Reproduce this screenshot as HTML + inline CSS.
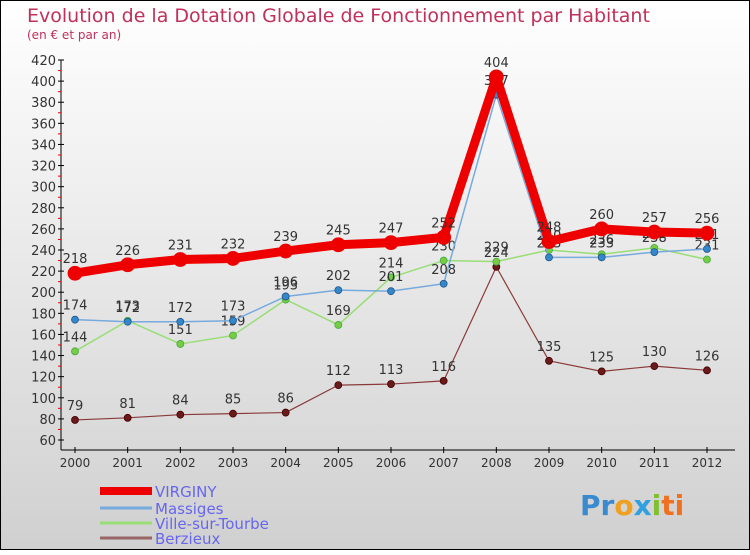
<!DOCTYPE html>
<html><head><meta charset="utf-8"><style>
body{margin:0}
svg text{font-family:"DejaVu Sans","Liberation Sans",sans-serif}
</style></head><body>
<svg width="750" height="550" viewBox="0 0 750 550">
<defs><linearGradient id="bg" x1="0" y1="0" x2="0" y2="1"><stop offset="0" stop-color="#ffffff"/><stop offset="1" stop-color="#d0d0d0"/></linearGradient></defs>
<rect x="0.5" y="0.5" width="749" height="549" fill="url(#bg)" stroke="#000"/>
<text x="27" y="22" font-size="19" fill="#c0305a">Evolution de la Dotation Globale de Fonctionnement par Habitant</text>
<text x="27" y="39" font-size="12" fill="#c0305a">(en € et par an)</text>
<g id="axes"></g>
<g id="series"></g>
<g id="legend"></g>
<text x="580" y="515" font-size="28" font-weight="bold"><tspan fill="#3a8ad0">Pr</tspan><tspan fill="#f0a020">o</tspan><tspan fill="#30a0e0">x</tspan><tspan fill="#80c030">i</tspan><tspan fill="#f07020">ti</tspan></text>
</svg>
<script>
const years=["2000","2001","2002","2003","2004","2005","2006","2007","2008","2009","2010","2011","2012"];
const yTicks=[60,80,100,120,140,160,180,200,220,240,260,280,300,320,340,360,380,400,420];
const virginy=[218,226,231,232,239,245,247,252,404,248,260,257,256];
const massiges=[174,172,172,173,196,202,201,208,387,233,233,238,241];
const ville=[144,173,151,159,193,169,214,230,229,240,236,242,231];
const berzieux=[79,81,84,85,86,112,113,116,224,135,125,130,126];
const NS="http://www.w3.org/2000/svg";
const xs=i=>75+i*(707-75)/12;
const ys=v=>440-(v-60)*(380/360);
function mk(t,a,p){const e=document.createElementNS(NS,t);for(const k in a)e.setAttribute(k,a[k]);p.appendChild(e);return e;}
const ax=document.getElementById('axes');
const yl=mk('line',{x1:61,y1:ys(420),x2:61,y2:450,stroke:'#000'},ax);

const xl=mk('line',{x1:61,y1:450,x2:735,y2:450,stroke:'#000'},ax);

yTicks.forEach(v=>{
 mk('line',{x1:58,y1:ys(v),x2:64,y2:ys(v),stroke:'#000'},ax);
 const t=mk('text',{x:56,y:ys(v)+5,'font-size':13,'text-anchor':'end',fill:'#333'},ax);t.textContent=v;
 
 if(v<420)mk('line',{x1:58,y1:ys(v+10),x2:61,y2:ys(v+10),stroke:'#e00'},ax);
});
years.forEach((y,i)=>{
 mk('line',{x1:xs(i),y1:447,x2:xs(i),y2:453,stroke:'#000'},ax);
 const t=mk('text',{x:xs(i),y:467,'font-size':12,'text-anchor':'middle',fill:'#333'},ax);t.textContent=y;
 
});
const sg=document.getElementById('series');
function series(d,name,color,w,r,dot,dotStroke){
 const g=mk('g',{},sg);
 const p=mk('polyline',{points:d.map((v,i)=>xs(i)+','+ys(v)).join(' '),fill:'none',stroke:color,'stroke-width':w,'stroke-linejoin':'round'},g);
 
 d.forEach((v,i)=>{
  const c=mk('circle',{cx:xs(i),cy:ys(v),r:r,fill:dot,stroke:dotStroke,'stroke-width':0.8},g);
  
  const t=mk('text',{x:xs(i),y:ys(v)-10,'font-size':13,'text-anchor':'middle',fill:'#333'},g);t.textContent=v;
  
 });
}
series(berzieux,'berzieux','#8a3a3a',1.2,3.5,'#6a1a1a','#400');
series(ville,'ville-sur-tourbe','#99dd77',1.5,3.5,'#77cc44','#4a4');
series(massiges,'massiges','#77aadd',1.5,3.5,'#3388cc','#258');
series(virginy,'virginy','#ee0000',9,7,'#ee0000','#e00');
const lg=document.getElementById('legend');
[['VIRGINY','#ee0000',8,491],['Massiges','#77aadd',3,508],['Ville-sur-Tourbe','#99dd77',3,523],['Berzieux','#996666',3,538]].forEach(e=>{
 mk('line',{x1:100,y1:e[3],x2:152,y2:e[3],stroke:e[1],'stroke-width':e[2]},lg);
 const t=mk('text',{x:155,y:e[3]+6,'font-size':15,fill:'#6666ee'},lg);t.textContent=e[0];
 
});
</script>
</body></html>
